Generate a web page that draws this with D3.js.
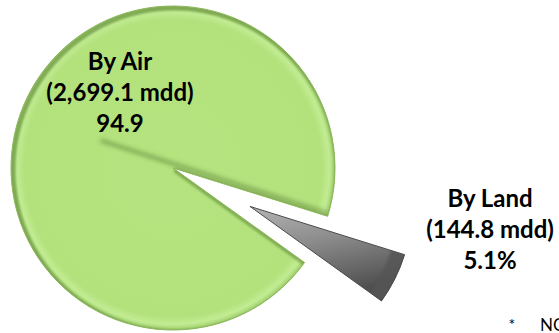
<!DOCTYPE html>
<meta charset="utf-8">
<title>Pie</title>
<script src="https://d3js.org/d3.v7.min.js"></script>
<style>
  body { margin: 0; background: #fff; }
  svg { display: block; }
  text { font-family: Lato, "Open Sans", sans-serif; }
</style>
<body>
<div id="my_dataviz"></div>
<script>

// data
var categories = ["By Air", "By Land"];
var values = [94.9, 5.1];
var amounts = ["(2,699.1 mdd)", "(144.8 mdd)"];
var shares = ["94.9", "5.1%"];
var note = ["*", "NOTE"];

var width = 559, height = 333;
var cx = 173, cy = 168, radius = 162;
var explode = 86;
var rad = Math.PI / 180;

var svg = d3.select("#my_dataviz")
  .append("svg")
    .attr("width", width)
    .attr("height", height);

var defs = svg.append("defs");

// green top face (gradient in the slice's own coordinates)
var gGreen = defs.append("radialGradient")
    .attr("id", "greenFill")
    .attr("gradientUnits", "userSpaceOnUse")
    .attr("cx", 0).attr("cy", 0).attr("r", radius);
gGreen.append("stop").attr("offset", 0).attr("stop-color", "#b4e37f");
gGreen.append("stop").attr("offset", 0.92).attr("stop-color", "#b3e27d");
gGreen.append("stop").attr("offset", 0.965).attr("stop-color", "#c2ec93");
gGreen.append("stop").attr("offset", 1).attr("stop-color", "#a0cf6c");

// grey wedge
var gGrey = defs.append("linearGradient")
    .attr("id", "greyFill")
    .attr("x1", 0).attr("y1", 0).attr("x2", 0.35).attr("y2", 1);
gGrey.append("stop").attr("offset", 0).attr("stop-color", "#b4b4b4");
gGrey.append("stop").attr("offset", 0.45).attr("stop-color", "#8c8c8c");
gGrey.append("stop").attr("offset", 1).attr("stop-color", "#505050");

var blur = defs.append("filter").attr("id", "soft")
    .attr("x", "-20%").attr("y", "-20%").attr("width", "140%").attr("height", "140%");
blur.append("feGaussianBlur").attr("stdDeviation", 2.2);

var blur2 = defs.append("filter").attr("id", "soft2")
    .attr("x", "-20%").attr("y", "-20%").attr("width", "140%").attr("height", "140%");
blur2.append("feGaussianBlur").attr("stdDeviation", 1.2);

var data = categories.map(function(c, i) {
  return { name: c, value: values[i], amount: amounts[i], share: shares[i] };
});

var start = 125.7 * rad;
var pie = d3.pie()
    .sort(null)
    .value(function(d) { return d.value; })
    .startAngle(start)
    .endAngle(start + 2 * Math.PI);

var arcs = pie(data);

var arc = d3.arc()
    .innerRadius(0)
    .outerRadius(radius);

function offset(d, i) {
  if (i === 0) return [cx, cy];
  var mid = (d.startAngle + d.endAngle) / 2;
  return [cx + Math.sin(mid) * explode, cy - Math.cos(mid) * explode];
}

// clip paths for the inner shading
defs.append("clipPath").attr("id", "clipAir")
  .append("path")
    .attr("transform", "translate(" + cx + "," + cy + ")")
    .attr("d", arc(arcs[0]));

defs.append("clipPath").attr("id", "clipLand")
  .append("path")
    .attr("transform", "translate(" + offset(arcs[1], 1).join(",") + ")")
    .attr("d", arc(arcs[1]));

// slices
var slices = svg.selectAll(".slice")
  .data(arcs)
  .enter()
  .append("g")
    .attr("class", "slice")
    .attr("transform", function(d, i) { return "translate(" + offset(d, i).join(",") + ")"; });

slices.append("path")
    .attr("d", arc)
    .attr("fill", function(d, i) { return i === 0 ? "url(#greenFill)" : "url(#greyFill)"; });

// inner bevel shadow on the green slice (darker toward lower right)
var air = svg.append("g").attr("clip-path", "url(#clipAir)");
air.append("path")
    .attr("transform", "translate(" + (cx + 2) + "," + (cy + 2) + ")")
    .attr("d", arc(arcs[0]))
    .attr("fill", "none")
    .attr("stroke", "#5f8a36")
    .attr("stroke-opacity", 0.6)
    .attr("stroke-width", 5)
    .attr("filter", "url(#soft2)");

// dark streak along the cut edge, running past the centre
var edgeA = arcs[0].endAngle;
var ux = Math.sin(edgeA), uy = -Math.cos(edgeA);
air.append("line")
    .attr("x1", cx - ux * 76)
    .attr("y1", cy - uy * 76 - 5)
    .attr("x2", cx + ux * radius)
    .attr("y2", cy + uy * radius - 3)
    .attr("stroke", "#4f6f2c")
    .attr("stroke-opacity", 0.5)
    .attr("stroke-width", 4)
    .attr("filter", "url(#soft)");

// outline of the green slice
svg.append("path")
    .attr("transform", "translate(" + cx + "," + cy + ")")
    .attr("d", arc(arcs[0]))
    .attr("fill", "none")
    .attr("stroke", "#8db75d")
    .attr("stroke-width", 1);

// grey rim and edge
var land = svg.append("g").attr("clip-path", "url(#clipLand)");
land.append("path")
    .attr("transform", "translate(" + offset(arcs[1], 1).join(",") + ")")
    .attr("d", d3.arc().innerRadius(radius - 14).outerRadius(radius + 2)(arcs[1]))
    .attr("fill", "#555")
    .attr("opacity", 0.8)
    .attr("filter", "url(#soft2)");
svg.append("path")
    .attr("transform", "translate(" + offset(arcs[1], 1).join(",") + ")")
    .attr("d", arc(arcs[1]))
    .attr("fill", "none")
    .attr("stroke", "#4a4a4a")
    .attr("stroke-width", 1);

// labels
var labelPos = [[120, 70], [490, 207]];
var lineGap = 31;

var labels = svg.selectAll(".lbl")
  .data(data)
  .enter()
  .append("text")
    .attr("class", "lbl")
    .attr("text-anchor", "middle")
    .attr("font-weight", "bold")
    .attr("font-size", "24px")
    .attr("fill", "#000");

labels.each(function(d, i) {
  var t = d3.select(this);
  [d.name, d.amount, d.share].forEach(function(s, k) {
    t.append("tspan")
      .attr("x", labelPos[i][0])
      .attr("y", labelPos[i][1] + k * lineGap)
      .text(s);
  });
});

// footnote (cut off at the right edge, as in the original)
svg.append("text")
    .attr("x", 512).attr("y", 330)
    .attr("font-size", "16px")
    .attr("font-family", "Liberation Sans, sans-serif")
    .attr("text-anchor", "middle")
    .text(note[0]);
svg.append("text")
    .attr("x", 540).attr("y", 331)
    .attr("font-size", "17px")
    .attr("font-family", "Liberation Sans, sans-serif")
    .text(note[1]);

</script>
</body>
